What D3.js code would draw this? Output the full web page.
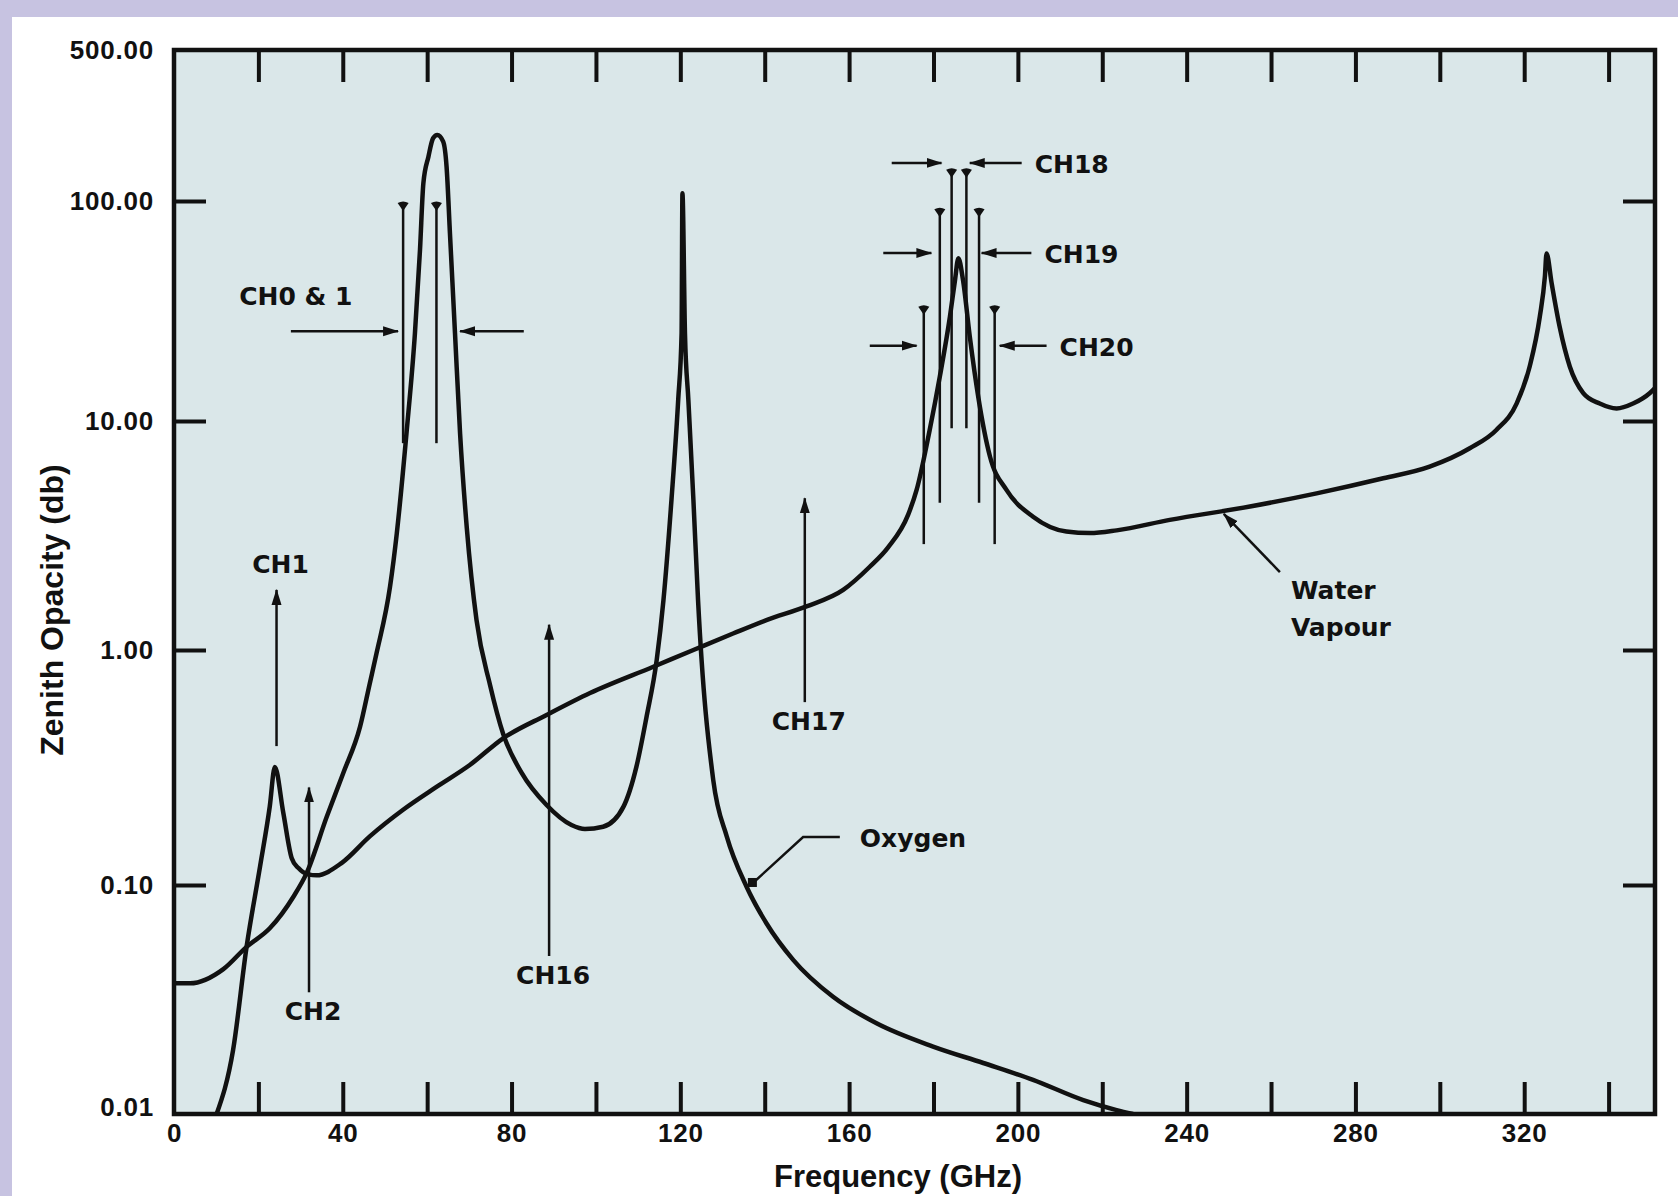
<!DOCTYPE html>
<html lang="en">
<head>
  <meta charset="UTF-8" />
  <title>Zenith Opacity</title>
  <style>
    body {
      margin: 0;
      background: #c7c3e1;
    }

    svg {
      display: block;
      font-family: "Liberation Sans", Arial, sans-serif;
      font-weight: bold;
      fill: #111;
    }

    .tick-marks line {
      stroke: #111;
      stroke-width: 4px;
    }

    .tick-labels text {
      font-size: 26px;
      font-family: "Liberation Sans", Arial, sans-serif;
      font-weight: bold;
      letter-spacing: 0.8px;
      fill: #111;
    }

    .curve {
      fill: none;
      stroke: #111;
      stroke-width: 4.5px;
      stroke-linejoin: round;
    }

    .note line, .note path.leader {
      stroke: #111;
      stroke-width: 2.5px;
      fill: none;
    }

    .note text {
      font-family: "DejaVu Sans", sans-serif;
      font-size: 25px;
    }

    .title {
      font-size: 31px;
    }
  </style>
  <script src="https://d3js.org/d3.v7.min.js"></script>
</head>
<body>
  <svg id="chart" width="1678" height="1196"></svg>

  <script>
    // Oxygen absorption, frequency (GHz) and opacity (db)
    const oxygenFreq = [0, 3.8, 11.7, 17.2, 22.7, 28.3, 31.4, 36.2, 40.1, 44.1, 46.4, 48.0, 51.2,
      52.8, 55.1, 57.1, 58.3, 59.1, 60.3, 61.4, 62.4, 63.8, 64.6, 65.4, 66.6, 67.8, 69.4, 71.7,
      74.9, 78.0, 82.4, 88.3, 94.2, 97.4, 101.7, 106.5, 109.6, 112.0, 114.4, 116.0,
      117.9, 119.5, 120.3, 120.5, 121.1, 121.9, 123.1, 124.2,
      127.8, 131.0, 135.7, 140.4, 146.8, 156.2, 166.5, 179.9, 191.8, 203.6, 215.5, 223.4, 227.3];
    const oxygenOpacity = [0.0372, 0.0372, 0.0429, 0.0537, 0.0647, 0.0889, 0.112, 0.195, 0.299, 0.472, 0.721, 0.968, 1.89,
      3.23, 8.84, 25.0, 59.9, 120.8, 160.4, 195.1, 202.1, 188.2, 144.1, 71.3, 25.0, 8.84, 3.40, 1.35,
      0.71, 0.44, 0.30, 0.219, 0.180, 0.173, 0.177, 0.215, 0.319, 0.520, 0.906, 1.65,
      4.52, 12.5, 25.0, 108.5, 25.0, 12.5, 4.52, 1.65,
      0.280, 0.161, 0.0983, 0.0681, 0.0470, 0.0325, 0.0249, 0.0197, 0.0167, 0.0141, 0.0115, 0.0104, 0.0100];

    // Water vapour absorption
    const vapourFreq = [10.1, 14.0, 17.2, 20.4, 22.7, 23.9, 25.9, 27.9, 29.5, 31.8, 33.8, 39.7,
      46.4, 54.3, 62.3, 70.1, 78.0, 88.3, 98.6, 113.6, 123.1, 132.5, 140.4, 149.9, 158.6, 164.9,
      169.2, 174.0, 176.0, 179.1, 181.5, 183.9, 185.1, 185.9, 187.0, 188.6, 190.6, 193.4, 197.3,
      203.6, 211.5, 217.1, 223.4, 236.0, 255.0, 270.8, 286.6, 297.6, 307.1, 313.4, 318.2, 321.3,
      323.7, 324.9, 325.3, 326.5, 328.4, 330.8, 334.0, 337.9, 341.9, 345.8, 349.8, 351];
    const vapourOpacity = [0.0100, 0.0190, 0.0537, 0.120, 0.216, 0.318, 0.203, 0.130, 0.118, 0.111, 0.110, 0.124,
      0.161, 0.209, 0.262, 0.324, 0.421, 0.529, 0.656, 0.849, 1.0, 1.18, 1.35, 1.55, 1.83, 2.31,
      2.80, 3.90, 5.0, 9.14, 15.9, 29.8, 43.7, 54.9, 43.7, 24.2, 12.9, 6.98, 5.0,
      3.82, 3.29, 3.24, 3.33, 3.70, 4.23, 4.83, 5.62, 6.32, 7.60, 9.14, 12.0, 17.7,
      29.8, 45.3, 57.8, 42.3, 26.8, 17.7, 13.4, 12.0, 11.4, 12.0, 13.4, 14.1];

    // Axis ticks
    const xTickMarks = [20, 40, 60, 80, 100, 120, 140, 160, 180, 200, 220, 240, 260, 280, 300, 320, 340];
    const xTickLabels = [0, 40, 80, 120, 160, 200, 240, 280, 320];
    const yTickMarks = [0.1, 1, 10, 100];
    const yTickLabels = [0.01, 0.1, 1, 10, 100, 500];

    // Single-frequency channels: frequency, arrow foot and tip opacity
    const singleNames = ["CH1", "CH2", "CH16", "CH17"];
    const singleFreq = [24.3, 32.0, 88.9, 149.5];
    const singleFoot = [0.39, 0.034, 0.049, 0.6];
    const singleTip = [1.83, 0.26, 1.29, 4.6];
    const singleLabelSide = ["top", "bottom", "bottom", "bottom"];

    // Paired channels: the two side lines and the inward arrows
    const pairNames = ["CH0 & 1", "CH18", "CH19", "CH20"];
    const pairLow = [54.3, 184.3, 181.5, 177.7];
    const pairHigh = [62.2, 187.8, 190.8, 194.5];
    const pairTop = [95, 135, 89, 32];
    const pairBottom = [8.0, 9.3, 4.4, 2.9];
    const pairArrowLevel = [25.6, 150, 58, 22];
    const pairLeftTail = [27.7, 170.1, 168.1, 164.9];
    const pairLeftTip = [53.1, 181.9, 179.5, 176.0];
    const pairRightTail = [82.9, 200.9, 203.2, 206.8];
    const pairRightTip = [67.8, 188.6, 191.4, 195.7];
    const pairLabelSide = ["above", "right", "right", "right"];

    const plotLeft = 174, plotRight = 1655, plotTop = 50, plotBottom = 1114;

    const svg = d3.select("#chart");

    // white sheet over the lavender page
    svg.append("rect")
      .attr("x", 12).attr("y", 17)
      .attr("width", 1678 - 12).attr("height", 1196 - 17)
      .attr("fill", "#ffffff");

    svg.append("rect")
      .attr("x", plotLeft).attr("y", plotTop)
      .attr("width", plotRight - plotLeft).attr("height", plotBottom - plotTop)
      .attr("fill", "#dae7e9");

    const x = d3.scaleLinear().domain([0, 351]).range([plotLeft, plotRight]);
    // the printed decades are not evenly spaced, so the log scale is piecewise
    const y = d3.scaleLog()
      .domain([0.01, 0.1, 1, 10, 100, 500])
      .range([1114, 885, 650, 421, 201, 50]);

    // inward ticks on all four sides
    const ticks = svg.append("g").attr("class", "tick-marks");
    ticks.append("g").attr("transform", `translate(0,${plotBottom})`)
      .call(d3.axisBottom(x).tickValues(xTickMarks).tickSize(-32).tickFormat(""));
    ticks.append("g").attr("transform", `translate(0,${plotTop})`)
      .call(d3.axisTop(x).tickValues(xTickMarks).tickSize(-32).tickFormat(""));
    ticks.append("g").attr("transform", `translate(${plotLeft},0)`)
      .call(d3.axisLeft(y).tickValues(yTickMarks).tickSize(-32).tickFormat(""));
    ticks.append("g").attr("transform", `translate(${plotRight},0)`)
      .call(d3.axisRight(y).tickValues(yTickMarks).tickSize(-32).tickFormat(""));
    ticks.selectAll(".domain").remove();

    const labels = svg.append("g").attr("class", "tick-labels");
    labels.append("g").attr("transform", `translate(0,${plotBottom})`)
      .call(d3.axisBottom(x).tickValues(xTickLabels).tickSize(0).tickPadding(10)
        .tickFormat(d3.format("d")));
    const yLab = labels.append("g").attr("transform", `translate(${plotLeft},0)`)
      .call(d3.axisLeft(y).tickValues(yTickLabels).tickSize(0).tickPadding(20)
        .tickFormat(d3.format(".2f")));
    yLab.selectAll("text").filter(d => d === 0.01).attr("dy", "0.05em");
    labels.selectAll(".domain").remove();
    labels.selectAll("text").attr("fill", "#111");

    // curves
    svg.append("clipPath").attr("id", "plot-clip")
      .append("rect")
      .attr("x", plotLeft).attr("y", plotTop)
      .attr("width", plotRight - plotLeft).attr("height", plotBottom - plotTop);

    const line = d3.line()
      .x(d => x(d[0]))
      .y(d => y(d[1]))
      .curve(d3.curveMonotoneX);

    const curves = svg.append("g").attr("clip-path", "url(#plot-clip)");
    curves.append("path").attr("class", "curve")
      .attr("d", line(d3.zip(oxygenFreq, oxygenOpacity)));
    curves.append("path").attr("class", "curve")
      .attr("d", line(d3.zip(vapourFreq, vapourOpacity)));

    // frame
    svg.append("rect")
      .attr("x", plotLeft).attr("y", plotTop)
      .attr("width", plotRight - plotLeft).attr("height", plotBottom - plotTop)
      .attr("fill", "none").attr("stroke", "#111").attr("stroke-width", 4.5);

    // arrowheads
    const defs = svg.append("defs");
    defs.append("marker")
      .attr("id", "head")
      .attr("markerUnits", "userSpaceOnUse")
      .attr("viewBox", "0 0 16 12")
      .attr("refX", 15).attr("refY", 6)
      .attr("markerWidth", 16).attr("markerHeight", 12)
      .attr("orient", "auto")
      .append("path")
      .attr("d", "M0,1 L16,6 L0,11 Z")
      .attr("fill", "#111");

    const note = svg.append("g").attr("class", "note");

    // single channel arrows
    singleNames.forEach((name, i) => {
      const cx = x(singleFreq[i]);
      note.append("line")
        .attr("x1", cx).attr("x2", cx)
        .attr("y1", y(singleFoot[i])).attr("y2", y(singleTip[i]))
        .attr("marker-end", "url(#head)");
      const ty = singleLabelSide[i] === "top" ? y(singleTip[i]) - 17 : y(singleFoot[i]) + 28;
      note.append("text")
        .attr("x", cx + 4).attr("y", ty)
        .attr("text-anchor", "middle")
        .text(name);
    });

    // paired channels, each side line capped with a small pin head
    const pinHead = "M-5.5,-4 Q0,-7 5.5,-4 L0,4 Z";
    pairNames.forEach((name, i) => {
      [pairLow[i], pairHigh[i]].forEach(f => {
        note.append("line")
          .attr("x1", x(f)).attr("x2", x(f))
          .attr("y1", y(pairBottom[i])).attr("y2", y(pairTop[i]));
        note.append("path")
          .attr("d", pinHead)
          .attr("fill", "#111")
          .attr("transform", `translate(${x(f)},${y(pairTop[i]) + 1})`);
      });
      const ay = y(pairArrowLevel[i]);
      note.append("line")
        .attr("x1", x(pairLeftTail[i])).attr("x2", x(pairLeftTip[i]))
        .attr("y1", ay).attr("y2", ay)
        .attr("marker-end", "url(#head)");
      note.append("line")
        .attr("x1", x(pairRightTail[i])).attr("x2", x(pairRightTip[i]))
        .attr("y1", ay).attr("y2", ay)
        .attr("marker-end", "url(#head)");
      if (pairLabelSide[i] === "above") {
        note.append("text")
          .attr("x", x(pairLeftTail[i]) + 5).attr("y", ay - 26)
          .attr("text-anchor", "middle")
          .text(name);
      } else {
        note.append("text")
          .attr("x", x(pairRightTail[i]) + 13).attr("y", ay + 10)
          .text(name);
      }
    });

    // Oxygen leader
    const oxyPoint = [137.2, 0.102];
    const oxyBend = [149.1, 0.16];
    const oxyEnd = [157.8, 0.16];
    note.append("path").attr("class", "leader")
      .attr("d", d3.line().x(d => x(d[0])).y(d => y(d[1]))([oxyPoint, oxyBend, oxyEnd]));
    note.append("rect")
      .attr("x", x(oxyPoint[0]) - 5).attr("y", y(oxyPoint[1]) - 5)
      .attr("width", 9).attr("height", 9)
      .attr("fill", "#111");
    note.append("text")
      .attr("x", x(oxyEnd[0]) + 20).attr("y", y(oxyEnd[1]) + 10)
      .text("Oxygen");

    // Water vapour leader
    const wvEnd = [262.1, 2.19];
    const wvPoint = [248.8, 3.93];
    note.append("line")
      .attr("x1", x(wvEnd[0])).attr("y1", y(wvEnd[1]))
      .attr("x2", x(wvPoint[0])).attr("y2", y(wvPoint[1]))
      .attr("marker-end", "url(#head)");
    note.append("text")
      .attr("x", x(wvEnd[0]) + 11).attr("y", y(wvEnd[1]) + 27)
      .text("Water");
    note.append("text")
      .attr("x", x(wvEnd[0]) + 11).attr("y", y(wvEnd[1]) + 64)
      .text("Vapour");

    // axis titles
    svg.append("text").attr("class", "title")
      .attr("x", 898).attr("y", 1187)
      .attr("text-anchor", "middle")
      .text("Frequency (GHz)");

    svg.append("text").attr("class", "title")
      .attr("transform", "translate(63,610) rotate(-90)")
      .attr("text-anchor", "middle")
      .style("font-size", "32px")
      .text("Zenith Opacity (db)");
  </script>
</body>
</html>
